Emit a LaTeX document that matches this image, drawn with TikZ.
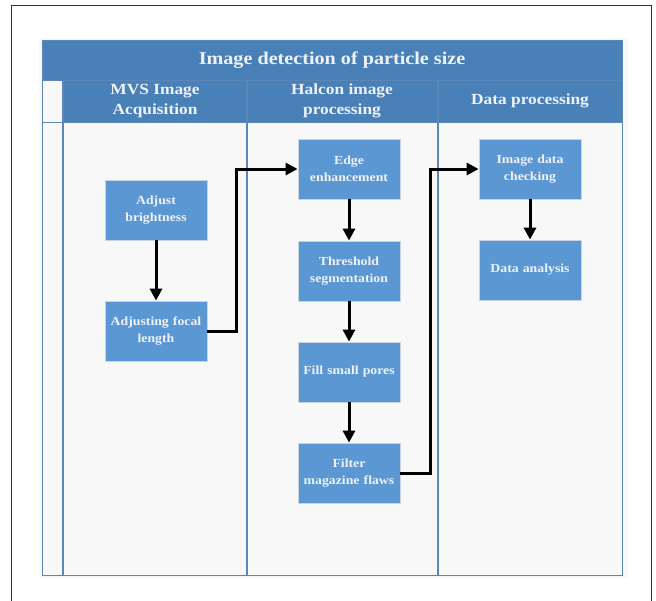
\documentclass[tikz,border=0pt]{standalone}
\usepackage{fontspec}
\setmainfont{Liberation Serif}[FakeStretch=1.12]
\usetikzlibrary{arrows.meta}
\definecolor{hdr}{HTML}{4A80B8}
\definecolor{lanebg}{HTML}{F8F8F8}
\definecolor{laneline}{HTML}{5A87B6}
\definecolor{boxfill}{HTML}{5B97D2}
\definecolor{boxline}{HTML}{C8D4E0}
\definecolor{txt}{HTML}{EEF2F7}
\begin{document}
\begin{tikzpicture}[x=1pt,y=-1pt,
  stepbox/.style={draw=boxline, line width=0.8pt, fill=boxfill, minimum width=102pt, minimum height=60pt,
     text width=100pt, align=center, font=\bfseries\fontsize{12.3}{17}\selectfont, text=txt, inner sep=0pt},
  flow/.style={line width=3pt, -{Triangle[length=12pt,width=12pt]}},
  hdrtext/.style={text=txt, font=\bfseries\fontsize{15.5}{20}\selectfont, align=center}]
\useasboundingbox (0,0) rectangle (656,600);
\fill[white] (0,0) rectangle (656,600);
% outer frame
\draw[line width=1pt, black!80] (11,5) -- (11,605) (11,5) -- (651,5) -- (651,605);
% table background
\fill[lanebg] (39,38) rectangle (628,578);
% title
\fill[hdr] (42,40) rectangle (622,80);
\node[text=txt, font=\bfseries\fontsize{18}{20}\selectfont] (title) at (332,60) {Image detection of particle size};
% lane header row
\fill[hdr] (63,80) rectangle (622,122);
\node[hdrtext] (l1) at (155,101) {MVS Image\\Acquisition};
\node[hdrtext] (l2) at (342,101) {Halcon image\\processing};
\node[hdrtext] (l3) at (530,101) {Data processing};
% lines
\draw[laneline, line width=1pt] (42,40) rectangle (622,575);
\draw[laneline, line width=1pt] (42,80) -- (622,80);
\draw[laneline, line width=1pt] (42,122) -- (622,122);
\draw[laneline, line width=1.2pt] (63,80) -- (63,575);
\draw[laneline, line width=1.2pt] (247,80) -- (247,575);
\draw[laneline, line width=1.2pt] (438,80) -- (438,575);
% boxes
\node[stepbox] (a) at (156,210) {Adjust\\brightness};
\node[stepbox] (b) at (156,331) {Adjusting focal\\length};
\node[stepbox] (c) at (349,169) {Edge\\enhancement};
\node[stepbox] (d) at (349,271) {Threshold\\segmentation};
\node[stepbox] (e) at (349,372) {Fill small pores};
\node[stepbox] (f) at (349,473) {Filter\\magazine flaws};
\node[stepbox] (g) at (530,169) {Image data\\checking};
\node[stepbox] (h) at (530,270) {Data analysis};
% connectors
\draw[flow] (a) -- (b);
\draw[flow] (b.east) -- ++(29,0) |- (c.west);
\draw[flow] (c) -- (d);
\draw[flow] (d) -- (e);
\draw[flow] (e) -- (f);
\draw[flow] (f.east) -- ++(30,0) |- (g.west);
\draw[flow] (g) -- (h);
\end{tikzpicture}
\end{document}
